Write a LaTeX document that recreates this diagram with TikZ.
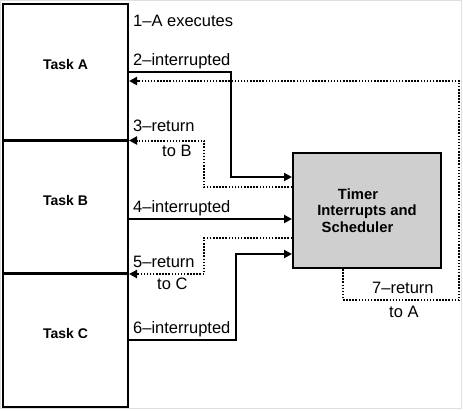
\documentclass[tikz,border=0pt]{standalone}
\usepackage{fontspec}
\setmainfont{Liberation Sans}
\usepackage{tikz}
\usetikzlibrary{positioning}
\usetikzlibrary{arrows.meta}

\tikzset{
  taskbox/.style={draw, line width=2pt, minimum width=125pt, inner sep=0pt},
  schedbox/.style={draw, line width=2pt, fill=gray!38, minimum width=148pt, minimum height=115pt, inner sep=0pt, align=center, font=\fontsize{14.8}{16.5}\selectfont\bfseries},
  tasklabel/.style={inner sep=0pt, font=\fontsize{14}{16}\selectfont\bfseries},
  steplabel/.style={anchor=base west, inner sep=0pt, font=\fontsize{16.5}{19}\selectfont},
  flow/.style={line width=2pt, -{Triangle[length=8pt,width=8pt]}},
  ret/.style={line width=2pt, dash pattern=on 1.5pt off 1.6pt, -{Triangle[length=8pt,width=8pt]}}
}

\begin{document}
\begin{tikzpicture}[x=1pt,y=-1pt]
\useasboundingbox (0,0) rectangle (463,410);
\draw[gray!25, line width=1pt] (0.5,0.5) rectangle (461.5,408.5);

% tasks
\node[taskbox, minimum height=136pt] (taskA) at (65.5,72) {};
\node[taskbox, minimum height=132pt] (taskB) at (65.5,207) {};
\node[taskbox, minimum height=133pt] (taskC) at (65.5,340.5) {};

\node[tasklabel] (taskAtxt) at (65.5,64) {Task A};
\node[tasklabel] (taskBtxt) at (65.5,200) {Task B};
\node[tasklabel] (taskCtxt) at (65.5,333) {Task C};

% scheduler
\node[schedbox] (sched) at (367,210.5) {Timer\hspace*{18pt}\\Interrupts and\\Scheduler\hspace*{19pt}};

% connectors
\draw[flow] (taskA.east |- 0,72) -| (231,177) -- (sched.west |- 0,177);
\draw[ret] (sched.south -| 343,0) |- (459,300) |- (taskA.east |- 0,81);
\draw[ret] (sched.west |- 0,187) -| (204,140.5) -- (taskA.east |- 0,140.5);
\draw[flow] (taskB.east |- 0,219) -- (sched.west |- 0,219);
\draw[ret] (sched.west |- 0,238) -| (204,274) -- (taskB.east |- 0,274);
\draw[flow] (taskC.east |- 0,340) -| (236,254) -- (sched.west |- 0,254);

% labels
\node[steplabel] (s1) at (133,26.5) {1–A executes};
\node[steplabel] (s2) at (133,65.5) {2–interrupted};
\node[steplabel] (s3) at (133,131) {3–return};
\node[steplabel] (s3b) at (162,156) {to B};
\node[steplabel] (s4) at (133,212) {4–interrupted};
\node[steplabel] (s5) at (133,267) {5–return};
\node[steplabel] (s5b) at (157,289) {to C};
\node[steplabel] (s6) at (133,333) {6–interrupted};
\node[steplabel] (s7) at (372,293) {7–return};
\node[steplabel] (s7b) at (389,317) {to A};

\end{tikzpicture}
\end{document}
